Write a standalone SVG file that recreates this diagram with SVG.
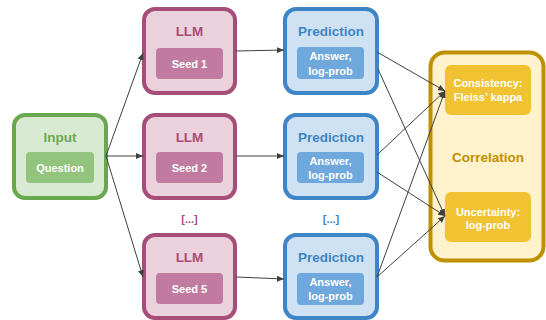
<svg xmlns="http://www.w3.org/2000/svg" width="546" height="320" viewBox="0 0 546 320">
<style>
text{font-family:"Liberation Sans",Arial,sans-serif;font-weight:bold;text-anchor:middle}
.t{font-size:13.5px}
.s{font-size:11px;fill:#ffffff}
.g{fill:#d9ead3;stroke:#6aa84f;stroke-width:4}
.gi{fill:#93c47d}
.m{fill:#ead1dc;stroke:#a64d79;stroke-width:4}
.mi{fill:#c27ba0}
.b{fill:#cfe2f3;stroke:#3d85c6;stroke-width:4}
.bi{fill:#6fa8dc}
.y{fill:#fff2cc;stroke:#bf9000;stroke-width:4}
.yi{fill:#f1c232}
.c line{stroke:#404040;stroke-width:1;marker-end:url(#a)}
</style>
<defs>
<marker id="a" markerUnits="userSpaceOnUse" markerWidth="7" markerHeight="6" refX="7" refY="3" orient="auto">
<path d="M0,0 L7,3 L0,6 z" fill="#404040"/>
</marker>
</defs>
<g id="input">
<rect class="g" x="14" y="115" width="92" height="83" rx="11"/>
<rect class="gi" x="26" y="152" width="68" height="31" rx="4"/>
<text class="t" x="60" y="142" fill="#6aa84f">Input</text>
<text class="s" x="60" y="172">Question</text>
</g>
<g id="llm1">
<rect class="m" x="144" y="9" width="91" height="84" rx="11"/>
<rect class="mi" x="156" y="48" width="67" height="31" rx="4"/>
<text class="t" x="189.500" y="36" fill="#a64d79">LLM</text>
<text class="s" x="189.500" y="67.500">Seed 1</text>
</g>
<g id="llm2">
<rect class="m" x="144" y="115" width="91" height="83" rx="11"/>
<rect class="mi" x="156" y="152" width="67" height="31" rx="4"/>
<text class="t" x="189.500" y="142" fill="#a64d79">LLM</text>
<text class="s" x="189.500" y="171.500">Seed 2</text>
</g>
<g id="llm5">
<rect class="m" x="144" y="235" width="91" height="83" rx="11"/>
<rect class="mi" x="156" y="273" width="67" height="31" rx="4"/>
<text class="t" x="189.500" y="262" fill="#a64d79">LLM</text>
<text class="s" x="189.500" y="293">Seed 5</text>
</g>
<g id="pred1">
<rect class="b" x="285" y="9" width="92" height="84" rx="11"/>
<rect class="bi" x="297" y="47" width="67" height="32" rx="4"/>
<text class="t" x="331" y="36" fill="#3d85c6">Prediction</text>
<text class="s" x="330.500" y="60">Answer,</text>
<text class="s" x="330.500" y="75">log-prob</text>
</g>
<g id="pred2">
<rect class="b" x="285" y="115" width="92" height="83" rx="11"/>
<rect class="bi" x="297" y="152" width="67" height="31" rx="4"/>
<text class="t" x="331" y="142" fill="#3d85c6">Prediction</text>
<text class="s" x="330.500" y="165">Answer,</text>
<text class="s" x="330.500" y="179">log-prob</text>
</g>
<g id="pred5">
<rect class="b" x="285" y="235" width="92" height="83" rx="11"/>
<rect class="bi" x="297" y="273" width="67" height="32" rx="4"/>
<text class="t" x="331" y="262" fill="#3d85c6">Prediction</text>
<text class="s" x="330.500" y="286">Answer,</text>
<text class="s" x="330.500" y="300">log-prob</text>
</g>
<g id="dots">
<text x="189.500" y="223" style="font-size:11px" fill="#a64d79">[...]</text>
<text x="331" y="223" style="font-size:11px" fill="#3d85c6">[...]</text>
</g>
<g id="correlation">
<rect class="y" x="430.500" y="52.500" width="113" height="208" rx="14"/>
<rect class="yi" x="445" y="65" width="86" height="50" rx="6"/>
<rect class="yi" x="445" y="192" width="86" height="50" rx="6"/>
<text class="t" x="488" y="162" fill="#bf9000">Correlation</text>
<text class="s" x="488" y="87">Consistency:</text>
<text class="s" x="488" y="101">Fleiss’ kappa</text>
<text class="s" x="488" y="216">Uncertainty:</text>
<text class="s" x="488" y="229">log-prob</text>
</g>
<g id="connectors" class="c">
<line x1="106" y1="156" x2="143" y2="53"/>
<line x1="106" y1="156" x2="143" y2="156"/>
<line x1="106" y1="156" x2="143" y2="277"/>
<line x1="236" y1="51" x2="284" y2="50"/>
<line x1="236" y1="156" x2="284" y2="156"/>
<line x1="236" y1="277" x2="284" y2="279"/>
<line x1="377" y1="52" x2="445" y2="91"/>
<line x1="378" y1="69" x2="445" y2="216"/>
<line x1="377" y1="155" x2="445" y2="91"/>
<line x1="377" y1="172" x2="445" y2="216"/>
<line x1="377" y1="277" x2="445" y2="91"/>
<line x1="377" y1="277" x2="445" y2="216"/>
</g>
</svg>
